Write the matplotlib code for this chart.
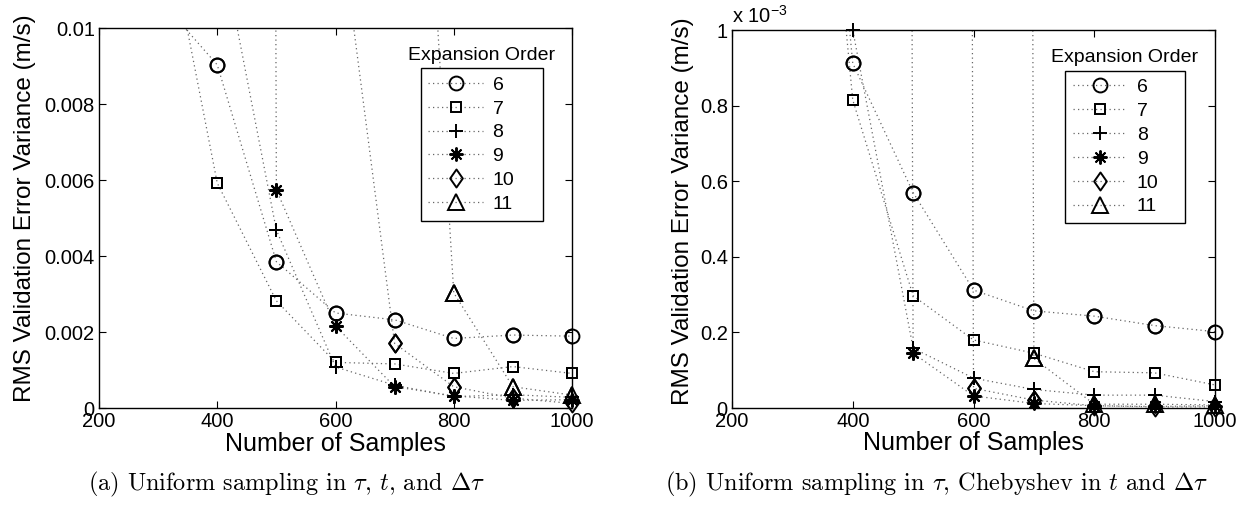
import numpy as np
import matplotlib
matplotlib.use("Agg")
import matplotlib.pyplot as plt
from matplotlib.path import Path

plt.rcParams['font.family'] = ['Liberation Sans', 'DejaVu Sans']
plt.rcParams['mathtext.fontset'] = 'custom'
plt.rcParams['mathtext.rm'] = 'Liberation Sans'
plt.rcParams['mathtext.it'] = 'Liberation Sans:italic'
plt.rcParams['mathtext.bf'] = 'Liberation Sans:bold'

# ---------------- data ----------------
samples = [300, 400, 500, 600, 700, 800, 900, 1000]
orders = ['6', '7', '8', '9', '10', '11']
nan = np.nan

# (a) uniform sampling  (m/s)
a_6 = [0.0108, 0.00903, 0.00385, 0.00250, 0.00232, 0.00183, 0.00192, 0.00189]
a_7 = [0.0139, 0.00592, 0.00282, 0.00120, 0.00116, 0.00091, 0.00109, 0.00091]
a_8 = [0.0500, 0.0127, 0.00468, 0.00108, 0.00060, 0.00030, 0.00035, 0.00028]
a_9 = [nan, 0.500, 0.00574, 0.00216, 0.00056, 0.00032, 0.00020, 0.00022]
a_10 = [nan, nan, 0.0500, 0.0137, 0.00170, 0.00056, 0.00026, 0.00012]
a_11 = [nan, nan, nan, 0.1000, 0.0288, 0.00303, 0.00056, 0.00034]

# (b) Chebyshev in t and dtau  (units of 1e-3 m/s)
b_6 = [2.6, 0.912, 0.570, 0.312, 0.257, 0.243, 0.218, 0.202]
b_7 = [2.5, 0.815, 0.297, 0.180, 0.145, 0.096, 0.093, 0.061]
b_8 = [5.0, 1.000, 0.158, 0.079, 0.049, 0.034, 0.034, 0.017]
b_9 = [nan, 50.0, 0.145, 0.032, 0.012, 0.006, 0.004, 0.006]
b_10 = [nan, nan, 50.0, 0.052, 0.021, 0.006, 0.003, 0.003]
b_11 = [nan, nan, nan, 50.0, 0.131, 0.010, 0.010, 0.008]

x_ticks = [200, 400, 600, 800, 1000]
a_yticks = [0, 0.002, 0.004, 0.006, 0.008, 0.01]
a_yticklabels = ['0', '0.002', '0.004', '0.006', '0.008', '0.01']
b_yticks = [0, 0.2, 0.4, 0.6, 0.8, 1.0]
b_yticklabels = ['0', '0.2', '0.4', '0.6', '0.8', '1']

caption_a = r"(a) Uniform sampling in $\tau$, $t$, and $\Delta\tau$"
caption_b = r"(b) Uniform sampling in $\tau$, Chebyshev in $t$ and $\Delta\tau$"
xlabel = "Number of Samples"
ylabel = "RMS Validation Error Variance (m/s)"
legend_title = "Expansion Order"

# ---------------- styles ----------------
diamond = Path([(0, 1), (0.7, 0), (0, -1), (-0.7, 0), (0, 1)],
               [Path.MOVETO, Path.LINETO, Path.LINETO, Path.LINETO, Path.CLOSEPOLY])
marker_styles = [('o', 10), ('s', 7.8), ('+', 10.5), ((8, 2, 0), 10), (diamond, 13), ('^', 11)]
line_kw = dict(ls=(0, (1.0, 2.6)), color='0.4', lw=0.9)
mark_kw = dict(mfc='none', mec='k', mew=1.4)

fig = plt.figure(figsize=(12.47, 5.19), dpi=100)
W, H = 1247.0, 519.0
ax_a = fig.add_axes([99 / W, (H - 408) / H, 473 / W, 380 / H])
ax_b = fig.add_axes([732 / W, (H - 408) / H, 483 / W, 378 / H])


def draw(ax, series, ymax, yticks, yticklabels, leg_x, leg_y, leg_w):
    handles = []
    x = np.array(samples, float)
    for vals, (m, ms), lab in zip(series, marker_styles, orders):
        y = np.array(vals, float)
        h, = ax.plot(x, y, marker=m, ms=ms, label=lab, **line_kw, **mark_kw)
        handles.append(h)
        mask = np.isfinite(y) & (y >= 0) & (y <= ymax * 1.0001)
        ax.plot(x[mask], y[mask], ls='none', marker=m, ms=ms, clip_on=False,
                zorder=4, **mark_kw)
    ax.set_xlim(200, 1000)
    ax.set_ylim(0, ymax)
    ax.set_xticks(x_ticks)
    ax.set_yticks(yticks)
    ax.set_yticklabels(yticklabels)
    ax.tick_params(direction='in', top=True, right=True, length=5, width=0.8,
                   labelsize=14.5, pad=3)
    for s in ax.spines.values():
        s.set_linewidth(1.0)
    ax.set_xlabel(xlabel, fontsize=18)
    ax.xaxis.set_label_coords(0.5, -0.062)
    ax.set_ylabel(ylabel, fontsize=17.5)
    leg = ax.legend(handles=handles, loc='upper left',
                    bbox_to_anchor=(leg_x, leg_y - 0.6, leg_w, 0.6), mode='expand',
                    fontsize=14, frameon=True, fancybox=False, framealpha=1,
                    edgecolor='k', handlelength=2.8, handletextpad=0.5,
                    labelspacing=0.32, borderpad=0.4, borderaxespad=0)
    leg.get_frame().set_linewidth(1.0)
    ax.text(leg_x + leg_w / 2, leg_y + 0.012, legend_title, transform=ax.transAxes,
            ha='center', va='bottom', fontsize=14)


draw(ax_a, [a_6, a_7, a_8, a_9, a_10, a_11], 0.01, a_yticks, a_yticklabels,
     0.680, 0.894, 0.259)
draw(ax_b, [b_6, b_7, b_8, b_9, b_10, b_11], 1.0, b_yticks, b_yticklabels,
     0.689, 0.892, 0.248)
ax_a.yaxis.set_label_coords(-0.133, 0.526)
ax_b.yaxis.set_label_coords(-0.078, 0.52)

ax_b.text(0.0, 1.008, r"x 10$^{-3}$", transform=ax_b.transAxes, ha='left', va='bottom',
          fontsize=14.5)

fig.text(286 / W, 1 - 484 / H, caption_a, family='cmr10', math_fontfamily='cm',
         ha='center', va='center', fontsize=17.5)
fig.text(936 / W, 1 - 484 / H, caption_b, family='cmr10', math_fontfamily='cm',
         ha='center', va='center', fontsize=17.5)

fig.savefig("out.png", dpi=100)
